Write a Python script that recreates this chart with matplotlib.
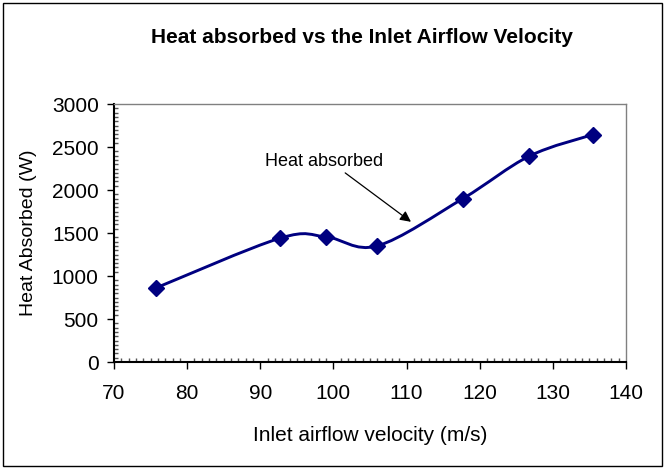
import matplotlib.pyplot as plt
from matplotlib.path import Path
from matplotlib.patches import PathPatch, Rectangle
from matplotlib.ticker import MultipleLocator

plt.rcParams['font.family'] = ['Liberation Sans', 'DejaVu Sans']

# data
velocidade = [75.7, 92.7, 99.0, 106.0, 117.7, 126.8, 135.5]
calor = [860, 1440, 1455, 1350, 1900, 2395, 2645]

COR = '#000080'


def curva_suave(xs, ys, t=1/6):
    # bezier segments like the Excel smoothed line
    verts = [(xs[0], ys[0])]
    codes = [Path.MOVETO]
    n = len(xs)
    for i in range(n - 1):
        x0, y0 = (xs[i - 1], ys[i - 1]) if i > 0 else (xs[i], ys[i])
        x1, y1 = xs[i], ys[i]
        x2, y2 = xs[i + 1], ys[i + 1]
        x3, y3 = (xs[i + 2], ys[i + 2]) if i + 2 < n else (x2, y2)
        c1 = (x1 + (x2 - x0) * t, y1 + (y2 - y0) * t)
        c2 = (x2 - (x3 - x1) * t, y2 - (y3 - y1) * t)
        verts += [c1, c2, (x2, y2)]
        codes += [Path.CURVE4] * 3
    return Path(verts, codes)


fig = plt.figure(figsize=(6.65, 4.69), dpi=100)
ax = fig.add_axes([114 / 665, 1 - 362 / 469, 512 / 665, 258 / 469])

ax.add_patch(PathPatch(curva_suave(velocidade, calor), fill=False,
                       edgecolor=COR, lw=2.1, zorder=3))
ax.plot(velocidade, calor, ls='none', marker='D', markersize=8.5,
        color=COR, zorder=4)

ax.set_xlim(70, 140)
ax.set_ylim(0, 3000)
ax.xaxis.set_major_locator(MultipleLocator(10))
ax.xaxis.set_minor_locator(MultipleLocator(1))
ax.yaxis.set_major_locator(MultipleLocator(500))
ax.yaxis.set_minor_locator(MultipleLocator(50))

ax.tick_params(axis='both', which='major', direction='out', length=5,
               width=1, labelsize=15)
ax.tick_params(axis='x', which='major', pad=11)
ax.tick_params(axis='y', which='major', pad=6)
ax.tick_params(axis='both', which='minor', direction='in', length=3,
               width=1, color='#555555')
for lado in ['left', 'bottom']:
    ax.spines[lado].set_linewidth(1.5)
    ax.spines[lado].set_color('black')
for lado in ['top', 'right']:
    ax.spines[lado].set_linewidth(1)
    ax.spines[lado].set_color('#808080')

ax.set_xlabel('Inlet airflow velocity (m/s)', fontsize=15)
ax.set_ylabel('Heat Absorbed (W)', fontsize=14)
ax.xaxis.set_label_coords(0.5, -(435 - 362) / 258)
ax.yaxis.set_label_coords(-(114 - 29) / 512, 0.5)
ax.xaxis.label.set_va('center')
ax.yaxis.label.set_va('center')

ax.annotate('Heat absorbed', xy=(110.6, 1630), xytext=(90.6, 2330),
            fontsize=13, va='center', ha='left',
            arrowprops=dict(arrowstyle='-|>', color='black', lw=0.9,
                            shrinkA=0, shrinkB=0, mutation_scale=16,
                            relpos=(0.65, 0.0)))

fig.text(362 / 665, 1 - 43 / 469, 'Heat absorbed vs the Inlet Airflow Velocity',
         ha='center', va='baseline', fontsize=15, fontweight='bold')

fig.patches.append(Rectangle((3 / 665, 3 / 469), 659 / 665, 463 / 469,
                             transform=fig.transFigure, fill=False,
                             edgecolor='black', lw=1))

fig.savefig('out.png', dpi=100)
